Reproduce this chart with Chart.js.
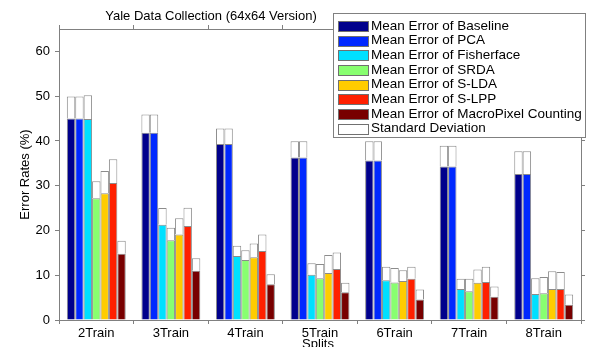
<!DOCTYPE html>
<html lang="en">
<head>
    <meta charset="UTF-8">
    <title>Yale Data Collection (64x64 Version)</title>
    <script src="https://cdn.jsdelivr.net/npm/chart.js"></script>
    <style>
        html, body {
            margin: 0;
            padding: 0;
            background: #ffffff;
        }
        #wrap {
            width: 590px;
            height: 347px;
        }
    </style>
</head>
<body>
    <div id="wrap"><canvas id="yaleChart" width="590" height="347"></canvas></div>

    <script>
        const splits = ["2Train", "3Train", "4Train", "5Train", "6Train", "7Train", "8Train"];
        const yTicks = [0, 10, 20, 30, 40, 50, 60];

        const methods = [
            "Mean Error of Baseline", "Mean Error of PCA", "Mean Error of Fisherface",
            "Mean Error of SRDA", "Mean Error of S-LDA", "Mean Error of S-LPP",
            "Mean Error of MacroPixel Counting"
        ];
        const methodColors = ['#00008c', '#0028ff', '#00e0ff', '#88ff70', '#ffcc00', '#ff2000', '#780000'];

        // mean error per split
        const baselineMean   = [45.0, 41.8, 39.3, 36.3, 35.6, 34.3, 32.6];
        const pcaMean        = [45.0, 41.8, 39.3, 36.3, 35.6, 34.3, 32.6];
        const fisherMean     = [44.9, 21.3, 14.3, 10.1, 8.9, 6.9, 5.8];
        const srdaMean       = [27.2, 17.8, 13.4, 9.3, 8.4, 6.4, 6.0];
        const sldaMean       = [28.3, 19.1, 14.0, 10.5, 8.7, 8.3, 6.9];
        const slppMean       = [30.6, 21.0, 15.4, 11.4, 9.2, 8.5, 6.9];
        const macroMean      = [14.8, 11.0, 8.0, 6.2, 4.6, 5.2, 3.4];

        // standard deviation (white part on top of each bar)
        const baselineStd    = [4.9, 4.1, 3.5, 3.6, 4.3, 4.6, 5.1];
        const pcaStd         = [4.9, 4.1, 3.5, 3.6, 4.3, 4.6, 5.1];
        const fisherStd      = [5.3, 3.7, 2.3, 2.6, 3.0, 2.3, 3.5];
        const srdaStd        = [3.8, 2.8, 2.2, 3.2, 3.2, 2.8, 3.6];
        const sldaStd        = [5.0, 3.6, 3.1, 4.0, 2.4, 3.0, 4.0];
        const slppStd        = [5.3, 4.1, 3.7, 3.7, 2.7, 3.4, 3.8];
        const macroStd       = [2.9, 2.8, 2.2, 2.1, 2.2, 2.3, 2.3];

        const means = [baselineMean, pcaMean, fisherMean, srdaMean, sldaMean, slppMean, macroMean];
        const stds = [baselineStd, pcaStd, fisherStd, srdaStd, sldaStd, slppStd, macroStd];

        const FONT = "'Liberation Sans', Arial, sans-serif";

        const datasets = [];
        means.forEach((m, i) => {
            datasets.push({
                label: methods[i],
                data: m,
                stack: 's' + i,
                backgroundColor: methodColors[i],
                borderColor: '#8c8c8c',
                borderWidth: 1
            });
            datasets.push({
                label: 'Standard Deviation',
                data: stds[i],
                stack: 's' + i,
                backgroundColor: '#ffffff',
                borderColor: '#8c8c8c',
                borderWidth: 1
            });
        });

        // title, x label, box and legend drawn on top like the matlab figure
        const figureDecor = {
            id: 'figureDecor',
            afterDraw(chart) {
                const ctx = chart.ctx;
                const area = chart.chartArea;
                ctx.save();
                ctx.strokeStyle = '#808080';
                ctx.lineWidth = 1;
                ctx.strokeRect(Math.round(area.left) + 0.5, Math.round(area.top) + 0.5,
                    Math.round(area.right - area.left), Math.round(area.bottom - area.top));

                ctx.fillStyle = '#000';
                ctx.font = '13px ' + FONT;
                ctx.textAlign = 'center';
                ctx.textBaseline = 'middle';
                ctx.fillText('Yale Data Collection (64x64 Version)', 211, 16);
                ctx.textBaseline = 'top';
                ctx.fillText('Splits', 318, 338);

                // legend box
                const lx = 333, ly = 13, lw = 252, lh = 124;
                ctx.fillStyle = '#fff';
                ctx.fillRect(lx, ly, lw, lh);
                ctx.strokeStyle = '#808080';
                ctx.strokeRect(lx + 0.5, ly + 0.5, lw, lh);
                const names = methods.concat(['Standard Deviation']);
                const cols = methodColors.concat(['#ffffff']);
                ctx.font = '13.5px ' + FONT;
                ctx.textAlign = 'left';
                ctx.textBaseline = 'middle';
                names.forEach((n, i) => {
                    const cy = 26 + i * 14.67;
                    ctx.fillStyle = cols[i];
                    ctx.fillRect(338, Math.round(cy - 5), 30, 10);
                    ctx.strokeStyle = '#707070';
                    ctx.strokeRect(338.5, Math.round(cy - 5) + 0.5, 30, 10);
                    ctx.fillStyle = '#000';
                    ctx.fillText(n, 371, cy);
                });
                ctx.restore();
            }
        };

        const ctx = document.getElementById('yaleChart').getContext('2d');
        const yaleChart = new Chart(ctx, {
            type: 'bar',
            data: {
                labels: splits,
                datasets: datasets
            },
            options: {
                responsive: false,
                animation: false,
                layout: {
                    padding: { left: 0, right: 5, top: 25, bottom: 0 }
                },
                datasets: {
                    bar: {
                        categoryPercentage: 0.79,
                        barPercentage: 1.0
                    }
                },
                plugins: {
                    legend: { display: false },
                    tooltip: { enabled: false }
                },
                scales: {
                    x: {
                        stacked: true,
                        grid: { drawOnChartArea: false, tickLength: 4, color: '#808080' },
                        border: { color: '#808080' },
                        ticks: { color: '#000', font: { family: FONT, size: 13 }, padding: 2, maxRotation: 0 },
                        afterFit: s => { s.height = 27; }
                    },
                    xTop: {
                        type: 'category',
                        position: 'top',
                        labels: splits,
                        offset: true,
                        grid: { drawOnChartArea: false, tickLength: 4, color: '#808080' },
                        border: { color: '#808080' },
                        ticks: { display: false },
                        afterFit: s => { s.height = 4; }
                    },
                    y: {
                        stacked: true,
                        min: 0,
                        max: 65,
                        afterBuildTicks: s => { s.ticks = yTicks.map(v => ({ value: v })); },
                        grid: { drawOnChartArea: false, tickLength: 4, color: '#808080' },
                        border: { color: '#808080' },
                        ticks: { color: '#000', font: { family: FONT, size: 13 }, padding: 5 },
                        title: {
                            display: true,
                            text: 'Error Rates (%)',
                            color: '#000',
                            font: { family: FONT, size: 13 },
                            padding: { top: 18, bottom: 0 }
                        },
                        afterFit: s => { s.width = 59; }
                    },
                    yRight: {
                        position: 'right',
                        min: 0,
                        max: 65,
                        afterBuildTicks: s => { s.ticks = yTicks.map(v => ({ value: v })); },
                        grid: { drawOnChartArea: false, tickLength: 4, color: '#808080' },
                        border: { color: '#808080' },
                        ticks: { display: false },
                        afterFit: s => { s.width = 4; }
                    }
                }
            },
            plugins: [figureDecor]
        });
    </script>
</body>
</html>
